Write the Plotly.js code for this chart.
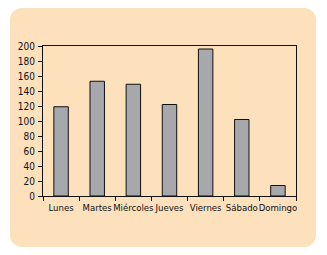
<!DOCTYPE html>
<html><head><meta charset="utf-8">
<script src="https://cdn.plot.ly/plotly-3.0.1.min.js"></script>
<style>
html,body{margin:0;padding:0;background:#fff;width:327px;height:255px;overflow:hidden;}
#bg{position:absolute;left:10px;top:8px;width:306px;height:239px;background:#fde0bc;border-radius:12px;}
#chart{position:absolute;left:0;top:0;width:327px;height:255px;}
</style></head>
<body>
<div id="bg"></div>
<div id="chart"></div>
<script>
var days = ["Lunes","Martes","Miércoles","Jueves","Viernes","Sábado","Domingo"];
var values = [119, 153, 149, 122, 196, 102, 14];
var yTicks = [0,20,40,60,80,100,120,140,160,180,200];

var fontFam = '"DejaVu Sans Condensed","Liberation Sans Narrow","Arial Narrow",sans-serif';
Plotly.newPlot('chart', [{
  type: 'bar', x: days, y: values,
  marker: {color: '#a7a8ab', line: {color: '#111', width: 1}},
  hoverinfo: 'skip'
}], {
  width: 327, height: 255,
  margin: {l: 43, r: 31, t: 46, b: 59},
  paper_bgcolor: 'rgba(0,0,0,0)', plot_bgcolor: 'rgba(0,0,0,0)',
  bargap: 0.6,
  showlegend: false,
  font: {family: fontFam, size: 10, color: '#111'},
  xaxis: {
    type: 'category', showline: true, linecolor: '#111', linewidth: 1, mirror: true,
    ticks: 'outside', tickson: 'boundaries', ticklen: 4, tickcolor: '#111', tickangle: 0,
    ticklabelstandoff: 3, tickfont: {size: 9.5},
    showgrid: false, zeroline: false, fixedrange: true
  },
  yaxis: {
    range: [0, 200], tickvals: yTicks, showline: true, linecolor: '#111', linewidth: 1, mirror: true,
    ticks: 'outside', ticklen: 4, tickcolor: '#111', ticklabelstandoff: 1, showgrid: false, zeroline: false, fixedrange: true
  }
}, {staticPlot: true});
</script>
</body></html>
